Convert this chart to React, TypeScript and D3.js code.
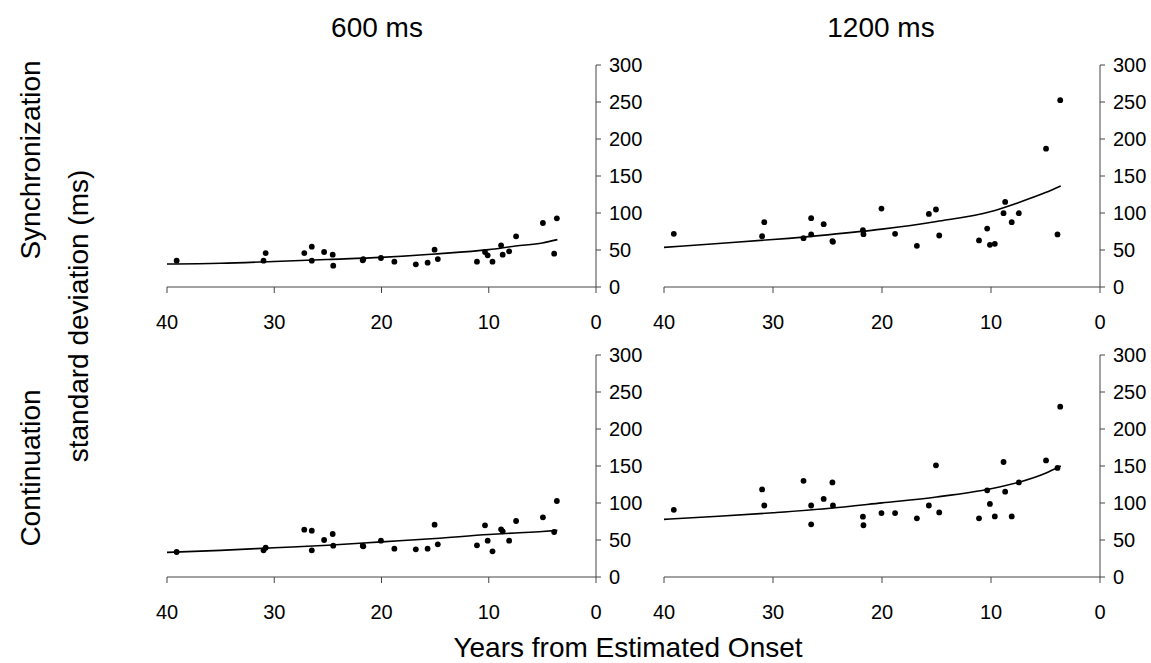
import React from "react";
import * as d3 from "d3";

const years = [39.1, 31.0, 30.8, 27.2, 26.5, 26.5, 25.35, 24.55, 24.5, 21.75, 21.7, 20.05, 18.8, 16.8, 15.7, 15.05, 14.75, 11.1, 10.35, 10.1, 9.65, 8.85, 8.7, 8.1, 7.45, 4.95, 3.9, 3.65];

const sync600 = [35.6, 35.6, 45.9, 45.9, 54.5, 35.6, 47.3, 43.7, 28.8, 36, 37.5, 39.2, 34.2, 30.6, 32.9, 50.5, 37.8, 34.2, 47.3, 42.8, 34.2, 56.3, 43.7, 48.2, 68.5, 86.5, 45, 92.8];
const sync1200 = [71.9, 68.7, 87.6, 66, 93, 71, 84.9, 62, 61, 76.8, 71.4, 106, 71.9, 55.7, 98.8, 104.7, 69.6, 62.9, 79, 57, 58.4, 99.7, 115, 87.6, 99.7, 186.9, 71, 252.5];
const cont600 = [33.8, 36.0, 39.6, 64, 62.6, 36, 50, 58.1, 42.3, 42.3, 41.5, 49.1, 38.3, 37.4, 38.3, 70.7, 44.1, 42.8, 69.8, 49.1, 34.7, 64.4, 61.7, 49.1, 75.7, 80.6, 60.8, 102.7];
const cont1200 = [90.8, 118.4, 96.6, 130, 96.6, 71.2, 105.5, 127.8, 96.6, 81.5, 69.9, 86.4, 86.4, 79.3, 96.6, 150.9, 87.3, 79.3, 117.1, 98.8, 81.9, 155.4, 115.3, 81.9, 127.8, 157.6, 147.4, 230.2];

const fitYears = [40, 35, 30, 25, 20, 15, 10, 7.5, 5, 3.6];
const fitSync600 = [31, 32, 34.5, 37.2, 40, 44.6, 50.5, 55.4, 59.5, 64];
const fitSync1200 = [53.5, 58.8, 64.2, 70.5, 78.2, 88.5, 102, 114, 127.6, 136.6];
const fitCont600 = [33.3, 36, 39.5, 43, 47.5, 52, 57.5, 59.5, 61.5, 63];
const fitCont1200 = [77.9, 82, 86.8, 92.5, 100.2, 108.2, 119.3, 127.8, 140.2, 150];

const xTicks = [40, 30, 20, 10, 0];
const yTicks = [0, 50, 100, 150, 200, 250, 300];

const columnTitles = ["600 ms", "1200 ms"];
const rowTitles = ["Synchronization", "Continuation"];
const yTitle = "standard deviation (ms)";
const xTitle = "Years from Estimated Onset";

const FONT = "'Liberation Sans', Arial, Helvetica, sans-serif";
const TICK_FS = 20;
const TITLE_FS = 28;

type PanelProps = {
  xRange: [number, number];
  yRange: [number, number];
  values: number[];
  fit: number[];
};

function Panel({ xRange, yRange, values, fit }: PanelProps) {
  const x = d3.scaleLinear().domain([40, 0]).range(xRange);
  const y = d3.scaleLinear().domain([0, 300]).range(yRange);
  const line = d3
    .line<number>()
    .x((_, i) => x(fitYears[i]))
    .y((d) => y(d))
    .curve(d3.curveMonotoneX);
  const axisColor = "#444";
  const x0 = xRange[0];
  const x1 = xRange[1];
  const yb = y(0);
  return (
    <g>
      <line x1={x0} x2={x1} y1={yb} y2={yb} stroke={axisColor} strokeWidth={1} />
      {xTicks.map((t) => (
        <g key={"xt" + t}>
          <line x1={x(t)} x2={x(t)} y1={yb} y2={yb + 6} stroke={axisColor} strokeWidth={1} />
          <text x={x(t)} y={yb + 42} textAnchor="middle" fontSize={TICK_FS} fontFamily={FONT} fill="#000">
            {t}
          </text>
        </g>
      ))}
      <line x1={x1} x2={x1} y1={y(0)} y2={y(300)} stroke={axisColor} strokeWidth={1} />
      {yTicks.map((t) => (
        <g key={"yt" + t}>
          <line x1={x1} x2={x1 + 5} y1={y(t)} y2={y(t)} stroke={axisColor} strokeWidth={1} />
          <text x={x1 + 13} y={y(t)} dy="0.35em" textAnchor="start" fontSize={TICK_FS} fontFamily={FONT} fill="#000">
            {t}
          </text>
        </g>
      ))}
      <path d={line(fit) || ""} fill="none" stroke="#000" strokeWidth={1.6} />
      {values.map((v, i) => (
        <circle key={i} cx={x(years[i])} cy={y(v)} r={2.9} fill="#000" />
      ))}
    </g>
  );
}

export default function App() {
  const leftX: [number, number] = [167, 596];
  const rightX: [number, number] = [664, 1100];
  const topY: [number, number] = [287, 65];
  const botY: [number, number] = [577, 355];
  return (
    <svg width={1151} height={663} style={{ position: "absolute", left: 0, top: 0, background: "#fff" }}>
      <rect x={0} y={0} width={1151} height={663} fill="#fff" />
      <text x={377} y={37} textAnchor="middle" fontSize={TITLE_FS} fontFamily={FONT}>{columnTitles[0]}</text>
      <text x={881} y={37} textAnchor="middle" fontSize={TITLE_FS} fontFamily={FONT}>{columnTitles[1]}</text>
      <text transform="translate(40,160) rotate(-90)" textAnchor="middle" fontSize={TITLE_FS} fontFamily={FONT}>{rowTitles[0]}</text>
      <text transform="translate(40,468) rotate(-90)" textAnchor="middle" fontSize={TITLE_FS} fontFamily={FONT}>{rowTitles[1]}</text>
      <text transform="translate(88,316) rotate(-90)" textAnchor="middle" fontSize={TITLE_FS} fontFamily={FONT}>{yTitle}</text>
      <text x={628} y={657} textAnchor="middle" fontSize={TITLE_FS} fontFamily={FONT}>{xTitle}</text>
      <Panel xRange={leftX} yRange={topY} values={sync600} fit={fitSync600} />
      <Panel xRange={rightX} yRange={topY} values={sync1200} fit={fitSync1200} />
      <Panel xRange={leftX} yRange={botY} values={cont600} fit={fitCont600} />
      <Panel xRange={rightX} yRange={botY} values={cont1200} fit={fitCont1200} />
    </svg>
  );
}
